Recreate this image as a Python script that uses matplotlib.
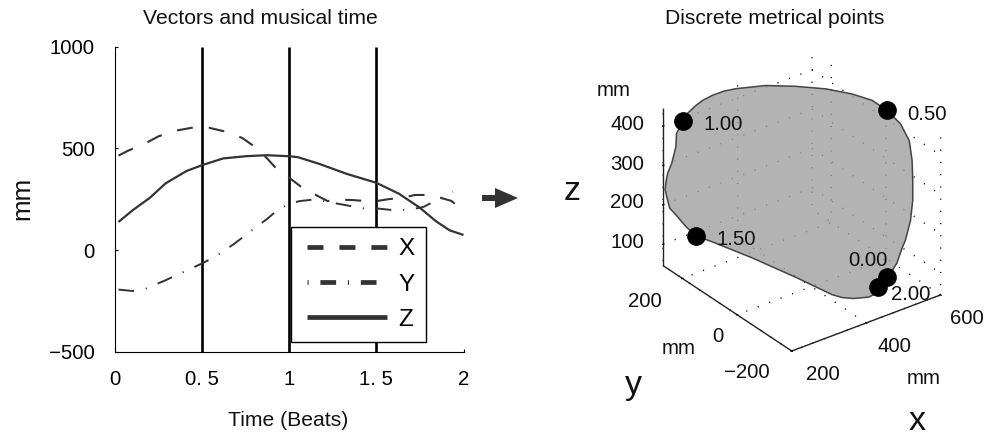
"""
Vectors and musical time / discrete metrical points
"""

import matplotlib
matplotlib.use("Agg")
import matplotlib.pyplot as plt
from matplotlib.legend_handler import HandlerLine2D
from matplotlib.lines import Line2D
from matplotlib.patches import FancyArrow
from matplotlib.transforms import IdentityTransform
from mpl_toolkits.mplot3d.art3d import Poly3DCollection

plt.rcParams['font.family'] = ['Liberation Sans', 'DejaVu Sans']
plt.rcParams['lines.scale_dashes'] = False
plt.rcParams['lines.solid_capstyle'] = 'butt'

W, H = 986, 436

# --- Data: left panel ---

x_time = [0.02, 0.07, 0.18, 0.25, 0.35, 0.44, 0.54, 0.64, 0.73, 0.79, 0.87, 0.93, 1.0, 1.07,
          1.155, 1.22, 1.29, 1.365, 1.44, 1.5, 1.575, 1.65, 1.72, 1.81, 1.93, 2.0]
x_vals = [465, 487, 528, 560, 588, 602, 602, 582, 552, 516, 454, 397, 356, 310,
          270, 241, 248, 246, 241, 241, 251, 257, 271, 271, 242, 192]

y_time = [0.02, 0.10, 0.18, 0.29, 0.44, 0.5, 0.58, 0.68, 0.81, 0.87, 0.93, 1.0, 1.06, 1.145,
          1.33, 1.44, 1.5, 1.59, 1.68, 1.77, 1.86, 1.94]
y_vals = [-195, -202, -189, -149, -90, -66, -30, 28, 113, 151, 195, 228, 241, 249,
          220, 203, 205, 197, 197, 212, 252, 286]

z_time = [0.02, 0.1, 0.2, 0.29, 0.41, 0.5, 0.62, 0.75, 0.87, 1.0, 1.05, 1.17, 1.33, 1.5,
          1.63, 1.75, 1.84, 1.92, 2.0]
z_vals = [138, 195, 257, 328, 389, 418, 451, 462, 467, 462, 457, 425, 375, 331,
          277, 208, 143, 97, 74]

beat_lines = [0.5, 1, 1.5]
time_ticks = [0, 0.5, 1, 1.5, 2]
time_labels = ["0", "0. 5", "1", "1. 5", "2"]
mm_ticks = [-500, 0, 500, 1000]

# --- Data: right panel ---

loop_x = [228, 219, 218, 212, 206, 204, 203, 206, 209, 218, 232, 246, 274, 325, 386, 437, 451,
          467, 488, 500, 514, 521, 528, 535, 540, 547, 550, 550, 549, 545, 533, 514, 493,
          465, 428, 386, 344, 302, 285, 269, 255, 246, 234]
loop_y = [235, 247, 248, 255, 262, 265, 267, 262, 258, 248, 230, 213, 178, 114, 39, -25, -43,
          -63, -89, -104, -121, -130, -138, -147, -153, -162, -166, -166, -165, -160, -144, -120, -95,
          -60, -14, 39, 91, 143, 164, 184, 201, 213, 228]
loop_z = [420, 385, 351, 308, 281, 259, 238, 213, 193, 178, 151, 131, 118, 92, 56, 23, 19,
          20, 28, 41, 84, 102, 123, 162, 184, 236, 288, 338, 389, 438, 478, 508, 529,
          539, 544, 541, 534, 517, 507, 493, 477, 462, 439]

point_labels = ["0.00", "0.50", "1.00", "1.50", "2.00"]
point_x = [514, 514, 228, 246, 501]
point_y = [-121, -120, 235, 213, -105]
point_z = [84, 508, 420, 131, 57]

x3_ticks = [200, 400, 600]
y3_ticks = [-200, 0, 200]
z3_ticks = [100, 200, 300, 400]


def put(x, y, s, size=14.7, **kw):
    # text placed by pixel position in the picture
    kw.setdefault('ha', 'center')
    kw.setdefault('va', 'center')
    fig.text(x / W, 1 - y / H, s, fontsize=size, color='#111111', **kw)


fig = plt.figure(figsize=(W / 100, H / 100), dpi=100)

# --- Left panel ---

ax = fig.add_axes([115 / W, (H - 351.5) / H, 348.5 / W, 304.5 / H])
for bx in beat_lines:
    ax.axvline(bx, color='black', lw=1.9, zorder=1)
ax.plot(x_time, x_vals, color='#333333', lw=1.5, ls=(0, (11.5, 11.5)))
ax.plot(y_time, y_vals, color='#333333', lw=1.4, ls=(0, (11.3, 8.5, 0.8, 8.5)))
ax.plot(z_time, z_vals, color='#333333', lw=1.6)
ax.set_xlim(0, 2)
ax.set_ylim(-500, 1000)
ax.set_xticks(time_ticks)
ax.set_xticklabels(time_labels)
ax.set_yticks(mm_ticks)
ax.tick_params(direction='in', length=2.5, width=0.8, labelsize=14.7)
ax.tick_params(axis='x', pad=13.5)
ax.tick_params(axis='y', pad=14.5)
ax.spines['top'].set_visible(False)
ax.spines['right'].set_visible(False)

handles = [
    Line2D([], [], color='#333333', lw=3.4, ls=(0, (11.5, 11.5))),
    Line2D([], [], color='#333333', lw=3.4, ls=(0, (0.8, 8.5, 11.3, 8.5))),
    Line2D([], [], color='#333333', lw=3.4),
]
ax.legend(handles, ["X", "Y", "Z"], loc='lower left', fontsize=17.5,
          bbox_to_anchor=((291 - 115) / 348.5, 9.5 / 304.5), borderaxespad=0,
          handlelength=3.486, handletextpad=0.45, borderpad=0.465, labelspacing=0.54,
          handler_map={Line2D: HandlerLine2D(xpad=0.193)},
          fancybox=False, framealpha=1, edgecolor='black', shadow=False)

put(260, 19, "Vectors and musical time", size=15.2)
put(288, 420, "Time (Beats)", size=15.2)
put(22, 198, "mm", size=18.7, rotation=90)

arrow = FancyArrow(482, H - 198, 36, 0, width=6, head_width=20, head_length=23,
                   length_includes_head=True, color='#333333', lw=0,
                   transform=IdentityTransform())
fig.add_artist(arrow)

# --- Right panel ---

ax3 = fig.add_axes([634 / W, (H - 369.5) / H, 327 / W, 327 / H], projection='3d',
                   proj_type='ortho', computed_zorder=False)
ax3.view_init(elev=30, azim=-127)
ax3.set_box_aspect((186.7, 213.9, 182))
ax3.set_xlim(200, 600)
ax3.set_ylim(-200, 270)
ax3.set_zlim(45, 445)
ax3.patch.set_alpha(0)
ax3.set_xticks(x3_ticks)
ax3.set_yticks(y3_ticks)
ax3.set_zticks(z3_ticks)
ax3.set_xticklabels([])
ax3.set_yticklabels([])
ax3.set_zticklabels([])
for axis in (ax3.xaxis, ax3.yaxis, ax3.zaxis):
    axis.set_pane_color((1, 1, 1, 0))
    axis.pane.set_edgecolor((1, 1, 1, 0))
    axis.line.set_color('#222222')
    axis.line.set_linewidth(1.0)
    axis._axinfo['grid'].update(color='black', linewidth=1.0, linestyle=(0, (0.8, 8)))
    axis._axinfo['tick'].update(inward_factor=0.1, outward_factor=0.1)

loop = Poly3DCollection([list(zip(loop_x, loop_y, loop_z))], facecolor='#a0a0a0', alpha=0.8,
                        edgecolor='none', zorder=2)
ax3.add_collection3d(loop)
ax3.plot(loop_x + loop_x[:1], loop_y + loop_y[:1], loop_z + loop_z[:1], color='#444444',
         lw=1.1, zorder=3)
ax3.scatter(point_x, point_y, point_z, s=155, color='black', depthshade=False, zorder=4)
ax3.set_xlim(200, 600)
ax3.set_ylim(-200, 270)
ax3.set_zlim(45, 445)

put(775, 19, "Discrete metrical points", size=15.2)
label_spots = [(868, 260), (927, 114), (723, 125), (736, 239), (911, 295)]
for (px, py), lab in zip(label_spots, point_labels):
    put(px, py, lab)

x_spots = [(823, 374), (894, 347), (967, 318)]
y_spots = [(747, 372), (718, 337), (645, 301)]
z_spots = [(627, 242), (627, 203), (627, 164), (627, 124)]
for (px, py), t in zip(x_spots, x3_ticks):
    put(px, py, str(t))
for (px, py), t in zip(y_spots, y3_ticks):
    put(px, py, str(t).replace("-", "\u2212"))
for (px, py), t in zip(z_spots, z3_ticks):
    put(px, py, str(t))

put(614, 90, "mm")
put(679, 348, "mm")
put(924, 378, "mm")
put(572, 191, "z", size=24.5)
put(633, 385, "y", size=24.5)
put(917, 421, "x", size=24.5)

fig.savefig("out.png", dpi=100)
